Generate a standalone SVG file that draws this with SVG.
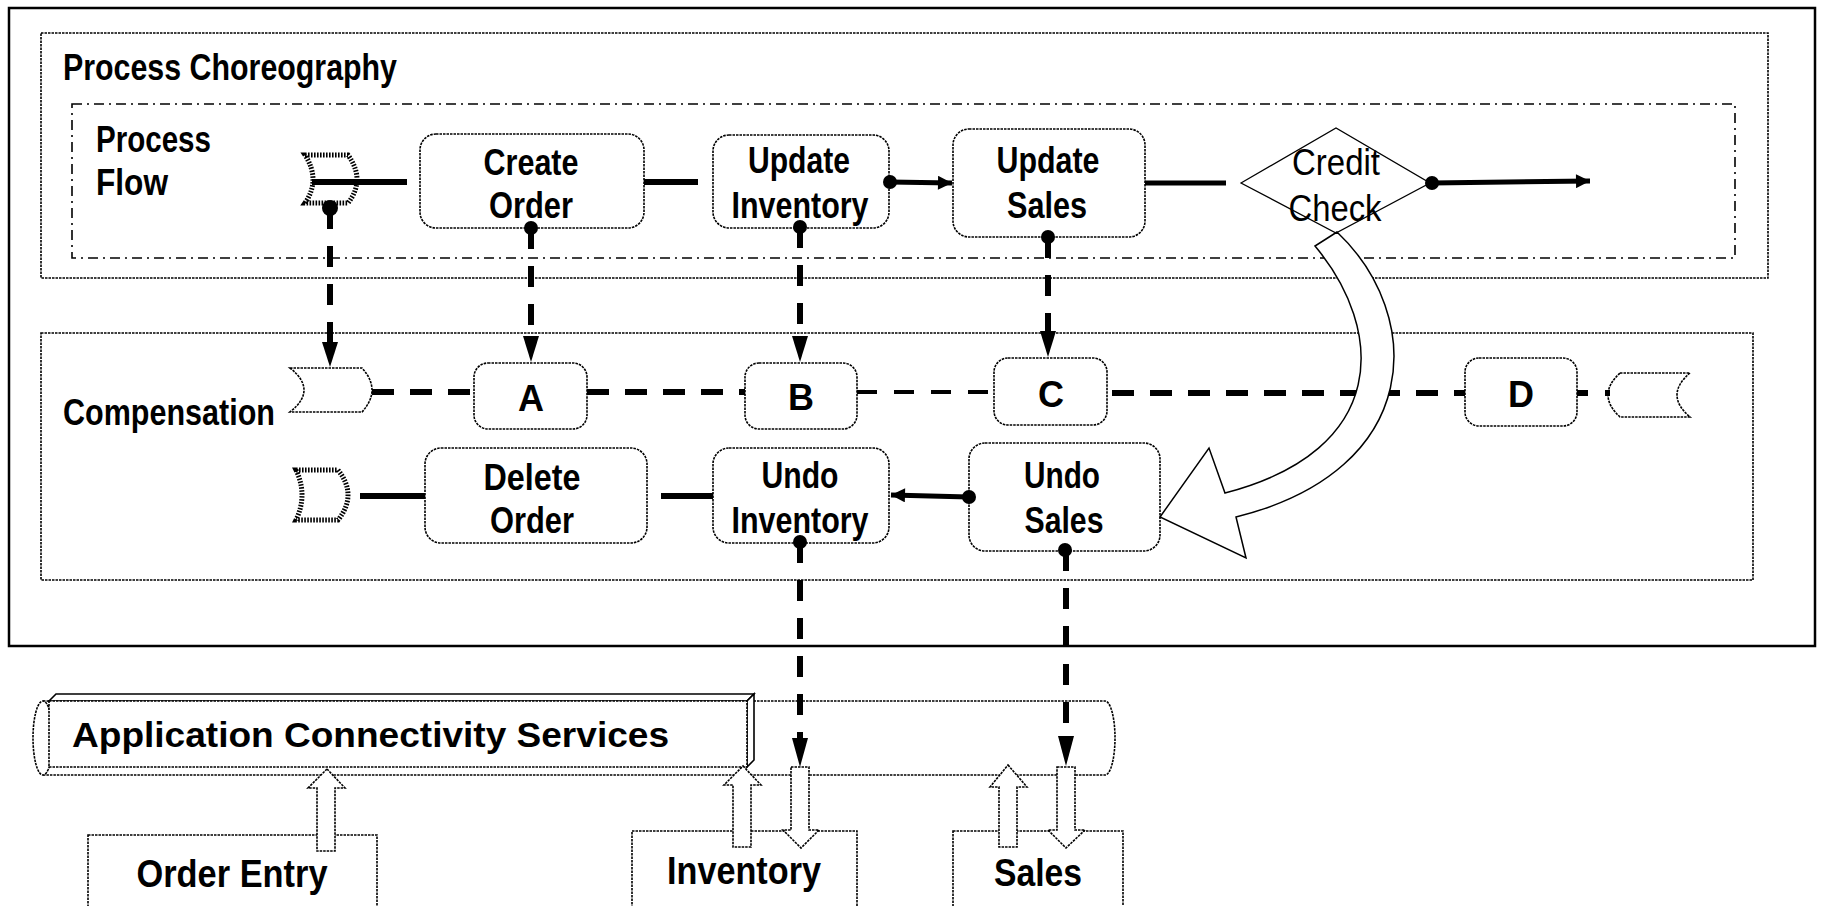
<svg xmlns="http://www.w3.org/2000/svg" width="1824" height="906" viewBox="0 0 1824 906">
<style>
.t{font-family:"Liberation Sans Narrow","Liberation Sans",Arial,sans-serif;font-weight:bold;font-size:36px;fill:#000}
.tr{font-family:"Liberation Sans Narrow","Liberation Sans",Arial,sans-serif;font-weight:normal;font-size:37px;fill:#000}
.tb{font-size:38px}
.acs{font-family:"Liberation Sans",Arial,sans-serif;font-weight:bold;font-size:35px;fill:#000}
.m{text-anchor:middle}
.box{fill:#fff;stroke:#000;stroke-width:1.6;stroke-dasharray:2.5 1}
.cont{fill:none;stroke:#000;stroke-width:1.6;stroke-dasharray:2.5 1}
.hatch{fill:none;stroke:#000;stroke-width:5;stroke-dasharray:1.6 1.4}
.solid{fill:none;stroke:#000;stroke-width:6}
.dash{fill:none;stroke:#000;stroke-width:6;stroke-dasharray:21 17}
.blk{fill:#fff;stroke:#000;stroke-width:1.6;stroke-dasharray:2.5 1}
</style>
<defs>
<marker id="ah" viewBox="0 0 10 10" refX="10" refY="5" markerWidth="16" markerHeight="14" markerUnits="userSpaceOnUse" orient="auto"><path d="M0,0 L10,5 L0,10 Z" fill="#000"/></marker>
</defs>
<rect width="1824" height="906" fill="#fff"/>

<!-- containers -->
<g id="frame"><rect x="9" y="8" width="1806" height="638" fill="none" stroke="#000" stroke-width="2.5"/></g>
<g id="process-choreography">
<rect class="cont" x="41" y="33" width="1727" height="245"/>
<text class="t" x="63" y="80" textLength="334" lengthAdjust="spacingAndGlyphs">Process Choreography</text>
</g>
<g id="process-flow">
<rect x="72" y="104" width="1663" height="154" fill="none" stroke="#000" stroke-width="1.6" stroke-dasharray="10 5 2 5"/>
<text class="t" x="96" y="152" textLength="115" lengthAdjust="spacingAndGlyphs">Process</text>
<text class="t" x="96" y="195" textLength="72" lengthAdjust="spacingAndGlyphs">Flow</text>
</g>
<g id="compensation">
<rect class="cont" x="41" y="333" width="1712" height="247"/>
<text class="t" x="63" y="425" textLength="212" lengthAdjust="spacingAndGlyphs">Compensation</text>
</g>

<!-- pipe -->
<g id="application-connectivity-services">
<path d="M43,701 L1105,701 A10,37 0 0 1 1105,775 L43,775" fill="#fff" stroke="#000" stroke-width="1.6" stroke-dasharray="2.5 1"/>
<ellipse cx="43" cy="738" rx="10" ry="37" fill="#fff" stroke="#000" stroke-width="1.6" stroke-dasharray="2.5 1"/>
<polygon points="49,701 56,694 754,694 747,701" fill="#fff" stroke="#000" stroke-width="1.6"/>
<polygon points="747,701 754,694 754,760 747,767" fill="#fff" stroke="#000" stroke-width="1.6"/>
<rect x="49" y="701" width="698" height="66" fill="#fff" stroke="#000" stroke-width="1.6" stroke-dasharray="2.5 1"/>
<text class="acs" x="72" y="747" textLength="597" lengthAdjust="spacingAndGlyphs">Application Connectivity Services</text>
</g>

<!-- applications -->
<g id="order-entry">
<rect class="box" x="88" y="835" width="289" height="90"/>
<text class="t tb m" x="232" y="887" textLength="191" lengthAdjust="spacingAndGlyphs">Order Entry</text>
</g>
<g id="inventory">
<rect class="box" x="632" y="831" width="225" height="90"/>
<text class="t tb m" x="744" y="884" textLength="154" lengthAdjust="spacingAndGlyphs">Inventory</text>
</g>
<g id="sales">
<rect class="box" x="953" y="831" width="170" height="90"/>
<text class="t tb m" x="1038" y="886" textLength="88" lengthAdjust="spacingAndGlyphs">Sales</text>
</g>

<!-- process flow nodes -->
<g id="pf-start"><path class="hatch" d="M305,155 L348,155 Q366,180 348,203 L305,203 Q321,180 305,155 Z"/></g>
<g id="create-order">
<rect class="box" x="420" y="134" width="224" height="94" rx="16"/>
<text class="t m" x="531" y="175" textLength="95" lengthAdjust="spacingAndGlyphs">Create</text>
<text class="t m" x="531" y="218" textLength="84" lengthAdjust="spacingAndGlyphs">Order</text>
</g>
<g id="update-inventory">
<rect class="box" x="713" y="135" width="176" height="93" rx="16"/>
<text class="t m" x="799" y="173" textLength="102" lengthAdjust="spacingAndGlyphs">Update</text>
<text class="t m" x="800" y="218" textLength="137" lengthAdjust="spacingAndGlyphs">Inventory</text>
</g>
<g id="update-sales">
<rect class="box" x="953" y="129" width="192" height="108" rx="16"/>
<text class="t m" x="1048" y="173" textLength="103" lengthAdjust="spacingAndGlyphs">Update</text>
<text class="t m" x="1047" y="218" textLength="80" lengthAdjust="spacingAndGlyphs">Sales</text>
</g>
<g id="credit-check">
<polygon points="1241,183 1336,128 1430,183 1336,233" fill="#fff" stroke="#000" stroke-width="1.3"/>
<text class="tr m" x="1336" y="175" textLength="88" lengthAdjust="spacingAndGlyphs">Credit</text>
<text class="tr m" x="1335" y="221" textLength="93" lengthAdjust="spacingAndGlyphs">Check</text>
</g>

<!-- compensation nodes -->
<g id="comp-start"><path class="box" d="M290,368 L362,368 Q382,390 362,412 L290,412 Q318,390 290,368 Z"/></g>
<g id="A"><rect class="box" x="474" y="363" width="113" height="66" rx="14"/><text class="t m" x="531" y="411">A</text></g>
<g id="B"><rect class="box" x="745" y="363" width="112" height="66" rx="14"/><text class="t m" x="801" y="410">B</text></g>
<g id="C"><rect class="box" x="994" y="358" width="113" height="67" rx="14"/><text class="t m" x="1051" y="407">C</text></g>
<g id="D"><rect class="box" x="1465" y="358" width="112" height="68" rx="14"/><text class="t m" x="1521" y="407">D</text></g>
<g id="comp-end"><path class="box" d="M1620,373 L1690,373 Q1664,395 1690,417 L1620,417 Q1596,395 1620,373 Z"/></g>
<g id="undo-start"><path class="hatch" d="M296,470 L338,470 Q358,495 338,520 L296,520 Q308,495 296,470 Z"/></g>
<g id="delete-order">
<rect class="box" x="425" y="448" width="222" height="95" rx="16"/>
<text class="t m" x="532" y="490" textLength="97" lengthAdjust="spacingAndGlyphs">Delete</text>
<text class="t m" x="532" y="533" textLength="84" lengthAdjust="spacingAndGlyphs">Order</text>
</g>
<g id="undo-inventory">
<rect class="box" x="713" y="448" width="176" height="95" rx="16"/>
<text class="t m" x="800" y="488" textLength="77" lengthAdjust="spacingAndGlyphs">Undo</text>
<text class="t m" x="800" y="533" textLength="137" lengthAdjust="spacingAndGlyphs">Inventory</text>
</g>
<g id="undo-sales">
<rect class="box" x="969" y="443" width="191" height="108" rx="16"/>
<text class="t m" x="1062" y="488" textLength="76" lengthAdjust="spacingAndGlyphs">Undo</text>
<text class="t m" x="1064" y="533" textLength="79" lengthAdjust="spacingAndGlyphs">Sales</text>
</g>

<!-- connectors -->
<g id="connectors">
<!-- process flow -->
<line class="solid" x1="312" y1="182" x2="407" y2="182"/>
<line class="solid" x1="644" y1="182" x2="698" y2="182"/>
<circle cx="890" cy="182" r="7"/>
<line x1="890" y1="182" x2="952" y2="183" stroke="#000" stroke-width="5" marker-end="url(#ah)"/>
<line x1="1145" y1="183" x2="1226" y2="183" stroke="#000" stroke-width="5"/>
<circle cx="1432" cy="183" r="7"/>
<line x1="1432" y1="183" x2="1590" y2="181" stroke="#000" stroke-width="5" marker-end="url(#ah)"/>

<!-- process to compensation -->
<circle cx="330" cy="208" r="8"/>
<line class="dash" x1="330" y1="208" x2="330" y2="345"/>
<polygon points="322,342 338,342 330,367"/>
<circle cx="531" cy="228" r="7"/>
<line class="dash" x1="531" y1="228" x2="531" y2="340"/>
<polygon points="523,336 539,336 531,362"/>
<circle cx="800" cy="227" r="7"/>
<line class="dash" x1="800" y1="227" x2="800" y2="340"/>
<polygon points="792,336 808,336 800,362"/>
<circle cx="1048" cy="237" r="7"/>
<line class="dash" x1="1048" y1="237" x2="1048" y2="335"/>
<polygon points="1040,331 1056,331 1048,357"/>

<!-- compensation chain -->
<line class="dash" x1="372" y1="392" x2="474" y2="392" style="stroke-dasharray:22 16"/>
<line class="dash" x1="587" y1="392" x2="745" y2="392" style="stroke-dasharray:22 16"/>
<line class="dash" x1="857" y1="392" x2="994" y2="392" style="stroke-width:4;stroke-dasharray:20 17"/>
<line class="dash" x1="1112" y1="393" x2="1465" y2="393" style="stroke-dasharray:22 16"/>
<line class="dash" x1="1577" y1="393" x2="1610" y2="393" style="stroke-dasharray:11 17"/>

<!-- undo chain -->
<line class="solid" x1="360" y1="496" x2="425" y2="496"/>
<line class="solid" x1="661" y1="496" x2="713" y2="496"/>
<circle cx="969" cy="497" r="7"/>
<line x1="969" y1="497" x2="891" y2="495" stroke="#000" stroke-width="5" marker-end="url(#ah)"/>

<!-- compensation to services -->
<circle cx="800" cy="542" r="7"/>
<line class="dash" x1="800" y1="542" x2="800" y2="742"/>
<polygon points="792,738 808,738 800,767"/>
<circle cx="1065" cy="550" r="7"/>
<line class="dash" x1="1066" y1="550" x2="1066" y2="740"/>
<polygon points="1058,736 1074,736 1066,766"/>

<!-- block arrows between services and applications -->
<polygon class="blk" points="327,769 345,788 335,788 335,851 317,851 317,788 308,788"/>
<polygon class="blk" points="743,766 761,785 751,785 751,847 733,847 733,785 724,785"/>
<polygon class="blk" points="791,767 809,767 809,830 819,830 801,848 783,830 791,830"/>
<polygon class="blk" points="1008,765 1027,787 1017,787 1017,847 999,847 999,787 990,787"/>
<polygon class="blk" points="1057,767 1075,767 1075,830 1085,830 1066,848 1048,830 1057,830"/>

<!-- credit check failure: curved block arrow to Undo Sales -->
<path d="M1337,232 L1315,246 C1385,330 1390,450 1225,493 L1209,448 L1160,517 L1246,558 L1236,517 C1425,470 1425,315 1337,232 Z" fill="#fff" stroke="#000" stroke-width="1.5"/>
</g>
</svg>
